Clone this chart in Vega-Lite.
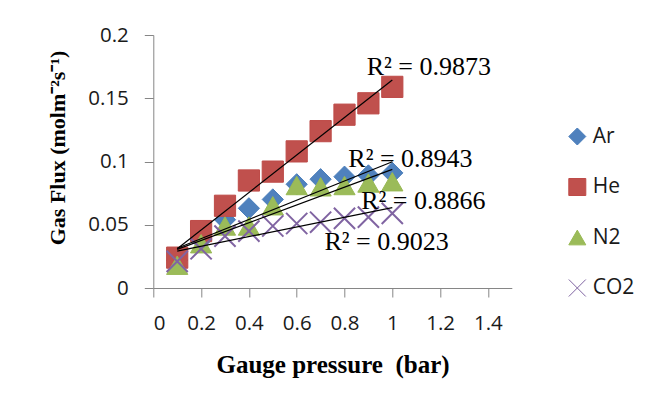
{
  "$schema": "https://vega.github.io/schema/vega-lite/v6.json",
  "width": 358.5,
  "height": 253,
  "autosize": "none",
  "padding": {"left": 153.3, "top": 35, "right": 146.2, "bottom": 119},
  "background": "white",
  "config": {"view": {"stroke": null}},
  "datasets": {
    "points": [
      {"gas": "Ar", "p": 0.1, "flux": 0.022}, {"gas": "Ar", "p": 0.2, "flux": 0.038}, {"gas": "Ar", "p": 0.3, "flux": 0.054}, {"gas": "Ar", "p": 0.4, "flux": 0.063}, {"gas": "Ar", "p": 0.5, "flux": 0.070}, {"gas": "Ar", "p": 0.6, "flux": 0.082}, {"gas": "Ar", "p": 0.7, "flux": 0.086}, {"gas": "Ar", "p": 0.8, "flux": 0.088}, {"gas": "Ar", "p": 0.9, "flux": 0.089}, {"gas": "Ar", "p": 1.0, "flux": 0.091},
      {"gas": "He", "p": 0.1, "flux": 0.024}, {"gas": "He", "p": 0.2, "flux": 0.045}, {"gas": "He", "p": 0.3, "flux": 0.065}, {"gas": "He", "p": 0.4, "flux": 0.085}, {"gas": "He", "p": 0.5, "flux": 0.092}, {"gas": "He", "p": 0.6, "flux": 0.108}, {"gas": "He", "p": 0.7, "flux": 0.124}, {"gas": "He", "p": 0.8, "flux": 0.137}, {"gas": "He", "p": 0.9, "flux": 0.146}, {"gas": "He", "p": 1.0, "flux": 0.159},
      {"gas": "N2", "p": 0.1, "flux": 0.018}, {"gas": "N2", "p": 0.2, "flux": 0.035}, {"gas": "N2", "p": 0.3, "flux": 0.049}, {"gas": "N2", "p": 0.4, "flux": 0.049}, {"gas": "N2", "p": 0.5, "flux": 0.065}, {"gas": "N2", "p": 0.6, "flux": 0.081}, {"gas": "N2", "p": 0.7, "flux": 0.080}, {"gas": "N2", "p": 0.8, "flux": 0.081}, {"gas": "N2", "p": 0.9, "flux": 0.083}, {"gas": "N2", "p": 1.0, "flux": 0.084},
      {"gas": "CO2", "p": 0.1, "flux": 0.021}, {"gas": "CO2", "p": 0.2, "flux": 0.031}, {"gas": "CO2", "p": 0.3, "flux": 0.041}, {"gas": "CO2", "p": 0.4, "flux": 0.045}, {"gas": "CO2", "p": 0.5, "flux": 0.049}, {"gas": "CO2", "p": 0.6, "flux": 0.051}, {"gas": "CO2", "p": 0.7, "flux": 0.052}, {"gas": "CO2", "p": 0.8, "flux": 0.055}, {"gas": "CO2", "p": 0.9, "flux": 0.056}, {"gas": "CO2", "p": 1.0, "flux": 0.059}
    ],
    "trends": [
      {"gas": "He", "p": 0.1, "flux": 0.031}, {"gas": "He", "p": 1.0, "flux": 0.1644},
      {"gas": "Ar", "p": 0.1, "flux": 0.0314}, {"gas": "Ar", "p": 1.0, "flux": 0.0998},
      {"gas": "N2", "p": 0.1, "flux": 0.0305}, {"gas": "N2", "p": 1.0, "flux": 0.0938},
      {"gas": "CO2", "p": 0.1, "flux": 0.0292}, {"gas": "CO2", "p": 1.0, "flux": 0.0635}
    ],
    "labels": [
      {"text": "R² = 0.9873", "p": 0.893, "flux": 0.1684},
      {"text": "R² = 0.8943", "p": 0.816, "flux": 0.0959},
      {"text": "R² = 0.8866", "p": 0.870, "flux": 0.0622},
      {"text": "R² = 0.9023", "p": 0.716, "flux": 0.0300}
    ]
  },
  "layer": [
    {
      "data": {"name": "points"},
      "mark": {"type": "point", "filled": false, "opacity": 1, "size": 450},
      "encoding": {
        "x": {
          "field": "p", "type": "quantitative",
          "scale": {"domain": [0, 1.5], "nice": false, "zero": false},
          "axis": {
            "title": "Gauge pressure\u00a0 (bar)",
            "values": [0, 0.2, 0.4, 0.6, 0.8, 1, 1.2, 1.4],
            "format": "~g",
            "grid": false,
            "domainColor": "#868686", "tickColor": "#868686",
            "tickSize": 9, "labelPadding": 16,
            "labelFont": "Open Sans", "labelFontSize": 20.5, "labelColor": "#1a1a1a",
            "titleFont": "Liberation Serif", "titleFontSize": 25, "titleFontWeight": "bold", "titleColor": "#000000",
            "titlePadding": 19
          }
        },
        "y": {
          "field": "flux", "type": "quantitative",
          "scale": {"domain": [0, 0.2], "nice": false},
          "axis": {
            "title": "Gas Flux (molm⁻²s⁻¹)",
            "values": [0, 0.05, 0.1, 0.15, 0.2],
            "format": "~g",
            "grid": false,
            "domainColor": "#868686", "tickColor": "#868686",
            "tickSize": 9, "labelPadding": 16,
            "labelFont": "Open Sans", "labelFontSize": 20.5, "labelColor": "#1a1a1a",
            "titleFont": "Liberation Serif", "titleFontSize": 22, "titleFontWeight": "bold", "titleColor": "#000000",
            "titleAngle": 270, "titleBaseline": "middle", "titleAlign": "center",
            "titleX": -96, "titleY": 112.5
          }
        },
        "shape": {
          "field": "gas", "type": "nominal",
          "scale": {"domain": ["Ar", "He", "N2", "CO2"], "range": ["diamond", "square", "triangle-up", "M-1,-1L1,1M-1,1L1,-1"]},
          "legend": {
            "title": null, "orient": "none", "legendX": 413.5, "legendY": 91,
            "padding": 0, "rowPadding": 28.5, "labelOffset": 5,
            "symbolSize": 289, "symbolStrokeWidth": 1,
            "labelFont": "Open Sans", "labelFontSize": 21, "labelColor": "#1a1a1a"
          }
        },
        "fill": {
          "field": "gas", "type": "nominal",
          "scale": {"domain": ["Ar", "He", "N2", "CO2"], "range": ["#4F81BD", "#C0504D", "#9BBB59", "transparent"]}
        },
        "stroke": {
          "field": "gas", "type": "nominal",
          "scale": {"domain": ["Ar", "He", "N2", "CO2"], "range": ["#4A7EBB", "#BE4B48", "#98B954", "#8064A2"]}
        },
        "strokeWidth": {
          "condition": {"test": "datum.gas === 'CO2'", "value": 2},
          "value": 1
        }
      }
    },
    {
      "data": {"name": "trends"},
      "mark": {"type": "line", "color": "#000000", "strokeWidth": 1.2},
      "encoding": {
        "x": {"field": "p", "type": "quantitative"},
        "y": {"field": "flux", "type": "quantitative"},
        "detail": {"field": "gas", "type": "nominal"}
      }
    },
    {
      "data": {"name": "labels"},
      "mark": {"type": "text", "align": "left", "baseline": "alphabetic", "font": "Liberation Serif", "fontSize": 26, "color": "#000000"},
      "encoding": {
        "x": {"field": "p", "type": "quantitative"},
        "y": {"field": "flux", "type": "quantitative"},
        "text": {"field": "text", "type": "nominal"}
      }
    }
  ]
}
